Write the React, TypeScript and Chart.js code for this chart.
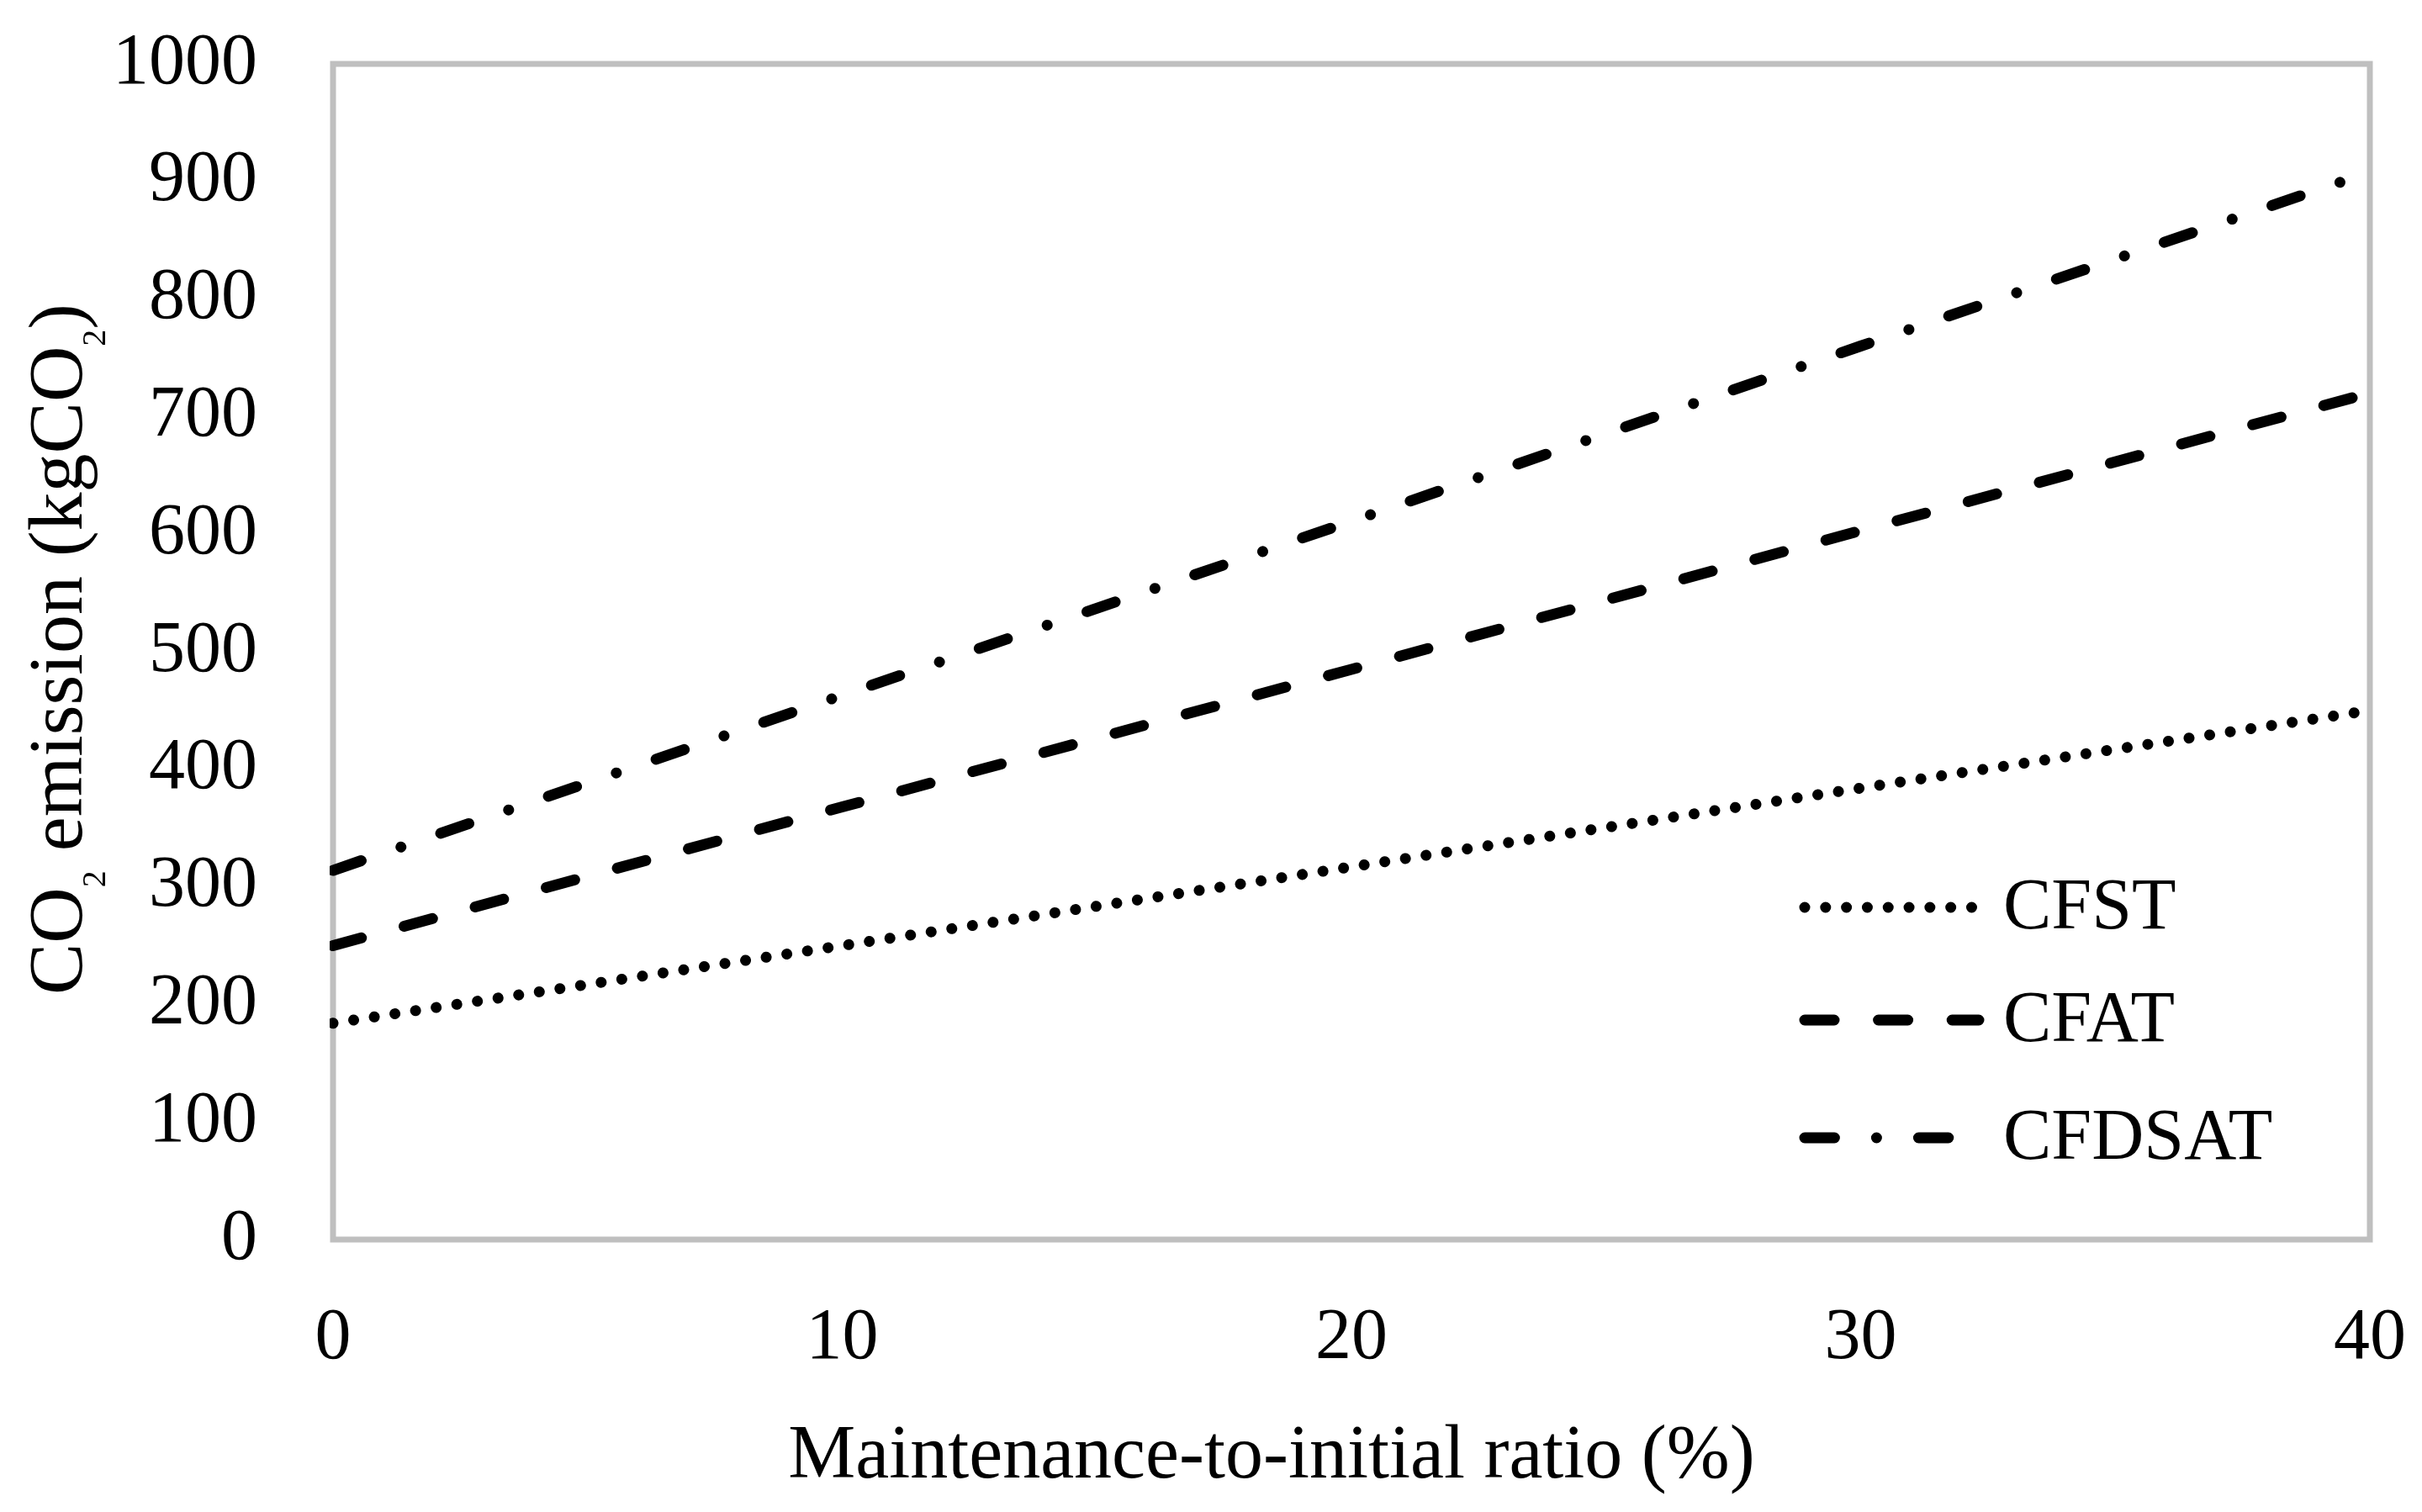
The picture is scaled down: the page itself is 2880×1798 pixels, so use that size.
import React, { useEffect, useRef } from "react";
import { Chart, registerables } from "chart.js";

Chart.register(...registerables);

// ---------------- data ----------------
const ratioValues = [0, 10, 20, 30, 40];
const cfstValues = [184, 250, 317, 384, 450];
const cfatValues = [250, 368, 485, 603, 720];
const cfdsatValues = [314, 463, 611, 760, 908];
const seriesLabels = ["CFST", "CFAT", "CFDSAT"];
const xTickValues = [0, 10, 20, 30, 40];
const yTickValues = [0, 100, 200, 300, 400, 500, 600, 700, 800, 900, 1000];
const xAxisTitle = "Maintenance-to-initial ratio (%)";
const yAxisTitleParts: [string, boolean][] = [
  ["CO", false],
  ["2", true],
  [" emission (kgCO", false],
  ["2", true],
  [")", false],
];

const FONT = "'Liberation Serif', 'Times New Roman', serif";

export default function App() {
  const ref = useRef<HTMLCanvasElement>(null);

  useEffect(() => {
    document.body.style.margin = "0";
    const W = window.innerWidth;
    const H = window.innerHeight;
    const S = Math.min(W / 2880, H / 1798);

    const plotLeft = 396 * S;
    const plotTop = 76 * S;
    const plotRight = 2818 * S;
    const plotBottom = 1474 * S;

    const lw = 13 * S;
    const dotDash = [0.01 * S, 24.8 * S];
    const dashDash = [35 * S, 52.6 * S];
    const dashDot = [35.4 * S, 50 * S, 0.01 * S, 50 * S];

    const mk = (vals: number[]) => ratioValues.map((x, i) => ({ x, y: vals[i] }));

    const zeroPad = (s: any) => {
      s.paddingTop = 0;
      s.paddingBottom = 0;
      s.paddingLeft = 0;
      s.paddingRight = 0;
    };

    const deco = {
      id: "deco",
      beforeDatasetsDraw(chart: any) {
        const { ctx, chartArea: a } = chart;
        ctx.save();
        ctx.strokeStyle = "#BFBFBF";
        ctx.lineWidth = 7 * S;
        ctx.strokeRect(a.left, a.top, a.right - a.left, a.bottom - a.top);
        ctx.restore();
      },
      afterDraw(chart: any) {
        const { ctx } = chart;
        // legend
        const rows = [1079, 1213, 1353];
        chart.data.datasets.forEach((ds: any, i: number) => {
          const y = rows[i] * S;
          ctx.save();
          ctx.strokeStyle = ds.borderColor;
          ctx.lineWidth = ds.borderWidth;
          ctx.lineCap = "round";
          ctx.setLineDash(ds.borderDash);
          ctx.beginPath();
          ctx.moveTo(2146 * S, y);
          ctx.lineTo(2353 * S, y);
          ctx.stroke();
          ctx.setLineDash([]);
          ctx.fillStyle = "#000";
          ctx.font = `${86 * S}px ${FONT}`;
          ctx.textBaseline = "alphabetic";
          ctx.textAlign = "left";
          ctx.fillText(ds.label, 2382 * S, y + 25 * S);
          ctx.restore();
        });

        // x title
        ctx.save();
        ctx.fillStyle = "#000";
        ctx.font = `${90 * S}px ${FONT}`;
        ctx.textAlign = "center";
        ctx.textBaseline = "alphabetic";
        ctx.fillText(xAxisTitle, 1512 * S, 1757 * S);
        ctx.restore();

        // y title (rotated, with subscripts)
        const main = 92 * S;
        const sub = 40 * S;
        ctx.save();
        ctx.fillStyle = "#000";
        ctx.textBaseline = "alphabetic";
        ctx.textAlign = "left";
        let total = 0;
        yAxisTitleParts.forEach(([t, s]) => {
          ctx.font = `${s ? sub : main}px ${FONT}`;
          total += ctx.measureText(t).width;
        });
        ctx.translate(97 * S, 772 * S);
        ctx.rotate(-Math.PI / 2);
        let x = -total / 2;
        yAxisTitleParts.forEach(([t, s]) => {
          ctx.font = `${s ? sub : main}px ${FONT}`;
          ctx.fillText(t, x, s ? 28 * S : 0);
          x += ctx.measureText(t).width;
        });
        ctx.restore();
      },
    };

    const chart = new Chart(ref.current as HTMLCanvasElement, {
      type: "line",
      data: {
        datasets: [
          {
            label: seriesLabels[0],
            data: mk(cfstValues),
            borderColor: "#000",
            borderWidth: lw,
            borderDash: dotDash,
            borderCapStyle: "round",
            pointRadius: 0,
            fill: false,
            tension: 0,
            clip: 4 * S,
          },
          {
            label: seriesLabels[1],
            data: mk(cfatValues),
            borderColor: "#000",
            borderWidth: lw,
            borderDash: dashDash,
            borderCapStyle: "round",
            pointRadius: 0,
            fill: false,
            tension: 0,
            clip: 4 * S,
          },
          {
            label: seriesLabels[2],
            data: mk(cfdsatValues),
            borderColor: "#000",
            borderWidth: lw,
            borderDash: dashDot,
            borderCapStyle: "round",
            pointRadius: 0,
            fill: false,
            tension: 0,
            clip: 4 * S,
          },
        ],
      } as any,
      options: {
        animation: false,
        responsive: true,
        maintainAspectRatio: false,
        layout: {
          padding: { left: 0, top: plotTop, right: W - plotRight, bottom: 0 },
        },
        plugins: {
          legend: { display: false },
          tooltip: { enabled: false },
          title: { display: false },
        },
        scales: {
          x: {
            type: "linear",
            min: 0,
            max: 40,
            afterBuildTicks: (s: any) => {
              s.ticks = xTickValues.map((v) => ({ value: v }));
            },
            afterFit: (s: any) => {
              s.height = H - plotBottom;
              zeroPad(s);
            },
            grid: { display: false, drawTicks: false },
            border: { display: false },
            ticks: {
              padding: 67 * S,
              color: "#000",
              font: { family: FONT, size: 86 * S },
              maxRotation: 0,
              autoSkip: false,
              callback: (v: any) => String(v),
            },
          },
          y: {
            type: "linear",
            min: 0,
            max: 1000,
            afterBuildTicks: (s: any) => {
              s.ticks = yTickValues.map((v) => ({ value: v }));
            },
            afterFit: (s: any) => {
              s.width = plotLeft;
              zeroPad(s);
            },
            grid: { display: false, drawTicks: false },
            border: { display: false },
            ticks: {
              padding: 90 * S,
              color: "#000",
              font: { family: FONT, size: 86 * S },
              autoSkip: false,
              callback: (v: any) => String(v),
            },
          },
        },
      } as any,
      plugins: [deco],
    });

    return () => chart.destroy();
  }, []);

  return (
    <div
      style={{
        position: "fixed",
        left: 0,
        top: 0,
        width: "100vw",
        height: "100vh",
        background: "#fff",
      }}
    >
      <canvas ref={ref} />
    </div>
  );
}
